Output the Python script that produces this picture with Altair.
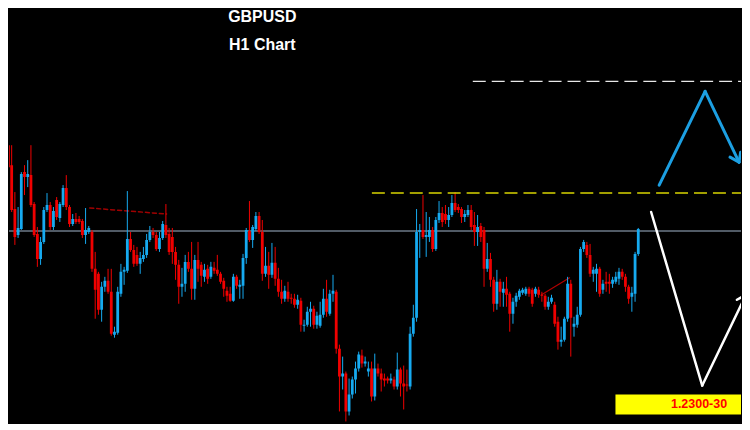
import altair as alt
import pandas as pd

# ---- GBPUSD H1 candles (prices) ----
opens = [1.2561, 1.2565, 1.2557, 1.2537, 1.2493, 1.2467, 1.2473, 1.2530, 1.2525, 1.2527,
         1.2498, 1.2468, 1.2443, 1.2460, 1.2492, 1.2497, 1.2475, 1.2502, 1.2484, 1.2497,
         1.2514, 1.2495, 1.2478, 1.2483, 1.2483, 1.2481, 1.2467, 1.2470, 1.2470, 1.2433,
         1.2428, 1.2392, 1.2415, 1.2421, 1.2410, 1.2367, 1.2369, 1.2408, 1.2430, 1.2431,
         1.2463, 1.2452, 1.2447, 1.2438, 1.2443, 1.2447, 1.2462, 1.2470, 1.2467, 1.2453,
         1.2464, 1.2477, 1.2468, 1.2465, 1.2450, 1.2437, 1.2415, 1.2418, 1.2440, 1.2433,
         1.2413, 1.2442, 1.2437, 1.2425, 1.2433, 1.2425, 1.2434, 1.2432, 1.2428, 1.2421,
         1.2411, 1.2408, 1.2401, 1.2425, 1.2415, 1.2416, 1.2444, 1.2471, 1.2462, 1.2473,
         1.2486, 1.2470, 1.2428, 1.2436, 1.2427, 1.2439, 1.2423, 1.2410, 1.2403, 1.2410,
         1.2404, 1.2403, 1.2397, 1.2401, 1.2376, 1.2377, 1.2390, 1.2393, 1.2377, 1.2376,
         1.2387, 1.2403, 1.2388, 1.2408, 1.2410, 1.2353, 1.2325, 1.2328, 1.2290, 1.2307,
         1.2322, 1.2333, 1.2346, 1.2338, 1.2330, 1.2333, 1.2305, 1.2333, 1.2328, 1.2323,
         1.2323, 1.2321, 1.2322, 1.2315, 1.2332, 1.2318, 1.2317, 1.2315, 1.2368, 1.2384,
         1.2470, 1.2472, 1.2465, 1.2465, 1.2472, 1.2453, 1.2482, 1.2489, 1.2488, 1.2482,
         1.2487, 1.2499, 1.2495, 1.2493, 1.2485, 1.2487, 1.2492, 1.2477, 1.2470, 1.2476,
         1.2472, 1.2433, 1.2443, 1.2422, 1.2398, 1.2420, 1.2409, 1.2413, 1.2408, 1.2388,
         1.2400, 1.2405, 1.2409, 1.2408, 1.2413, 1.2412, 1.2408, 1.2412, 1.2407, 1.2406,
         1.2395, 1.2400, 1.2397, 1.2380, 1.2360, 1.2362, 1.2383, 1.2418, 1.2375, 1.2377,
         1.2387, 1.2453, 1.2457, 1.2447, 1.2428, 1.2428, 1.2433, 1.2412, 1.2420, 1.2420,
         1.2418, 1.2420, 1.2423, 1.2430, 1.2425, 1.2415, 1.2405, 1.2408, 1.2448]

highs = [1.2570, 1.2573, 1.2560, 1.2557, 1.2510, 1.2495, 1.2530, 1.2537, 1.2542, 1.2557,
         1.2500, 1.2475, 1.2465, 1.2495, 1.2509, 1.2500, 1.2495, 1.2505, 1.2500, 1.2517,
         1.2527, 1.2497, 1.2488, 1.2489, 1.2486, 1.2483, 1.2494, 1.2476, 1.2472, 1.2450,
         1.2430, 1.2420, 1.2425, 1.2433, 1.2433, 1.2375, 1.2415, 1.2438, 1.2435, 1.2511,
         1.2470, 1.2457, 1.2455, 1.2450, 1.2455, 1.2468, 1.2476, 1.2474, 1.2470, 1.2470,
         1.2481, 1.2498, 1.2474, 1.2474, 1.2455, 1.2442, 1.2434, 1.2447, 1.2450, 1.2460,
         1.2447, 1.2460, 1.2440, 1.2438, 1.2437, 1.2440, 1.2440, 1.2447, 1.2430, 1.2424,
         1.2415, 1.2415, 1.2428, 1.2427, 1.2422, 1.2448, 1.2474, 1.2501, 1.2477, 1.2490,
         1.2490, 1.2482, 1.2455, 1.2450, 1.2459, 1.2455, 1.2434, 1.2422, 1.2416, 1.2420,
         1.2408, 1.2408, 1.2407, 1.2404, 1.2382, 1.2395, 1.2400, 1.2396, 1.2390, 1.2400,
         1.2413, 1.2422, 1.2412, 1.2427, 1.2412, 1.2357, 1.2345, 1.2330, 1.2323, 1.2325,
         1.2340, 1.2350, 1.2352, 1.2345, 1.2340, 1.2340, 1.2348, 1.2338, 1.2333, 1.2328,
         1.2325, 1.2328, 1.2325, 1.2349, 1.2334, 1.2336, 1.2332, 1.2375, 1.2397, 1.2493,
         1.2478, 1.2507, 1.2490, 1.2485, 1.2475, 1.2485, 1.2501, 1.2495, 1.2497, 1.2495,
         1.2507, 1.2510, 1.2498, 1.2495, 1.2492, 1.2497, 1.2497, 1.2490, 1.2487, 1.2479,
         1.2475, 1.2459, 1.2449, 1.2425, 1.2432, 1.2423, 1.2420, 1.2425, 1.2410, 1.2404,
         1.2409, 1.2413, 1.2414, 1.2415, 1.2415, 1.2414, 1.2415, 1.2415, 1.2410, 1.2408,
         1.2405, 1.2407, 1.2400, 1.2385, 1.2375, 1.2385, 1.2425, 1.2422, 1.2385, 1.2395,
         1.2455, 1.2462, 1.2460, 1.2458, 1.2435, 1.2438, 1.2435, 1.2422, 1.2430, 1.2428,
         1.2425, 1.2430, 1.2434, 1.2433, 1.2428, 1.2417, 1.2415, 1.2450, 1.2474]

lows = [1.2554, 1.2550, 1.2532, 1.2490, 1.2457, 1.2464, 1.2472, 1.2507, 1.2515, 1.2495,
        1.2465, 1.2435, 1.2437, 1.2458, 1.2490, 1.2472, 1.2472, 1.2482, 1.2480, 1.2495,
        1.2492, 1.2475, 1.2476, 1.2478, 1.2478, 1.2464, 1.2458, 1.2468, 1.2430, 1.2383,
        1.2387, 1.2380, 1.2410, 1.2408, 1.2366, 1.2364, 1.2367, 1.2405, 1.2417, 1.2429,
        1.2450, 1.2435, 1.2436, 1.2428, 1.2440, 1.2444, 1.2460, 1.2464, 1.2451, 1.2450,
        1.2462, 1.2464, 1.2447, 1.2438, 1.2422, 1.2398, 1.2405, 1.2410, 1.2430, 1.2402,
        1.2402, 1.2420, 1.2415, 1.2420, 1.2418, 1.2423, 1.2428, 1.2426, 1.2418, 1.2405,
        1.2400, 1.2400, 1.2400, 1.2413, 1.2403, 1.2403, 1.2438, 1.2460, 1.2454, 1.2471,
        1.2468, 1.2421, 1.2425, 1.2413, 1.2424, 1.2416, 1.2405, 1.2398, 1.2400, 1.2400,
        1.2398, 1.2394, 1.2393, 1.2370, 1.2370, 1.2375, 1.2375, 1.2373, 1.2373, 1.2374,
        1.2384, 1.2385, 1.2386, 1.2400, 1.2348, 1.2290, 1.2312, 1.2280, 1.2286, 1.2303,
        1.2308, 1.2330, 1.2334, 1.2335, 1.2325, 1.2300, 1.2301, 1.2325, 1.2310, 1.2315,
        1.2318, 1.2318, 1.2312, 1.2312, 1.2305, 1.2292, 1.2310, 1.2312, 1.2365, 1.2380,
        1.2444, 1.2463, 1.2445, 1.2460, 1.2450, 1.2451, 1.2479, 1.2475, 1.2478, 1.2475,
        1.2485, 1.2490, 1.2489, 1.2479, 1.2480, 1.2485, 1.2472, 1.2456, 1.2456, 1.2460,
        1.2415, 1.2430, 1.2415, 1.2390, 1.2392, 1.2395, 1.2395, 1.2395, 1.2370, 1.2378,
        1.2395, 1.2402, 1.2407, 1.2406, 1.2405, 1.2395, 1.2405, 1.2404, 1.2400, 1.2392,
        1.2392, 1.2398, 1.2375, 1.2352, 1.2355, 1.2360, 1.2380, 1.2345, 1.2365, 1.2374,
        1.2385, 1.2450, 1.2444, 1.2425, 1.2420, 1.2410, 1.2405, 1.2408, 1.2410, 1.2408,
        1.2414, 1.2418, 1.2417, 1.2422, 1.2410, 1.2398, 1.2390, 1.2400, 1.2446]

closes = [1.2567, 1.2553, 1.2535, 1.2492, 1.2465, 1.2474, 1.2528, 1.2525, 1.2528, 1.2497,
          1.2467, 1.2443, 1.2460, 1.2492, 1.2497, 1.2475, 1.2491, 1.2485, 1.2498, 1.2514,
          1.2495, 1.2478, 1.2483, 1.2480, 1.2480, 1.2467, 1.2472, 1.2474, 1.2433, 1.2412,
          1.2392, 1.2415, 1.2421, 1.2410, 1.2368, 1.2370, 1.2410, 1.2430, 1.2432, 1.2463,
          1.2452, 1.2438, 1.2438, 1.2444, 1.2447, 1.2462, 1.2470, 1.2467, 1.2453, 1.2464,
          1.2478, 1.2467, 1.2450, 1.2450, 1.2437, 1.2415, 1.2418, 1.2440, 1.2433, 1.2413,
          1.2442, 1.2433, 1.2426, 1.2432, 1.2423, 1.2435, 1.2431, 1.2428, 1.2420, 1.2413,
          1.2406, 1.2401, 1.2425, 1.2416, 1.2417, 1.2444, 1.2472, 1.2462, 1.2475, 1.2486,
          1.2470, 1.2428, 1.2436, 1.2427, 1.2439, 1.2423, 1.2410, 1.2403, 1.2411, 1.2403,
          1.2403, 1.2397, 1.2402, 1.2377, 1.2377, 1.2390, 1.2393, 1.2377, 1.2386, 1.2387,
          1.2403, 1.2390, 1.2408, 1.2411, 1.2353, 1.2325, 1.2328, 1.2290, 1.2307, 1.2322,
          1.2333, 1.2347, 1.2338, 1.2340, 1.2333, 1.2305, 1.2333, 1.2328, 1.2322, 1.2321,
          1.2321, 1.2323, 1.2315, 1.2332, 1.2318, 1.2315, 1.2316, 1.2368, 1.2384, 1.2470,
          1.2472, 1.2465, 1.2467, 1.2472, 1.2453, 1.2482, 1.2489, 1.2480, 1.2482, 1.2487,
          1.2499, 1.2492, 1.2492, 1.2485, 1.2488, 1.2492, 1.2475, 1.2470, 1.2475, 1.2465,
          1.2433, 1.2443, 1.2422, 1.2398, 1.2420, 1.2410, 1.2413, 1.2407, 1.2388, 1.2400,
          1.2406, 1.2411, 1.2412, 1.2413, 1.2408, 1.2398, 1.2413, 1.2407, 1.2406, 1.2395,
          1.2400, 1.2404, 1.2378, 1.2360, 1.2362, 1.2383, 1.2418, 1.2384, 1.2378, 1.2387,
          1.2453, 1.2460, 1.2447, 1.2428, 1.2432, 1.2433, 1.2408, 1.2418, 1.2418, 1.2418,
          1.2422, 1.2425, 1.2430, 1.2425, 1.2415, 1.2403, 1.2409, 1.2448, 1.2473]

# ---- annotation levels / drawings (bar index, price) ----
grey_level = 1.2471
target_levels = [1.2509, 1.2621]
target_starts = [115.1, 146.5]
target_colors = ["#d8d400", "#e8e8e8"]

blue_arrow = [  # x, price, x2, price2
    (204.5, 1.2517, 218.8, 1.2611),
    (218.8, 1.2611, 229.35, 1.2540),
    (229.35, 1.2540, 229.85, 1.2550),
    (229.35, 1.2540, 226.55, 1.2545),
]
white_arrow = [
    (202.0, 1.2490, 217.9, 1.2316),
    (217.9, 1.2316, 231.5, 1.2407),
    (231.5, 1.2407, 228.7, 1.2402),
    (231.5, 1.2407, 232.1, 1.2397),
]
red_dashed = [(27.3, 1.2494, 51.2, 1.2488)]
red_thin = [(167.9, 1.2407, 176.6, 1.2424)]

box_x = [190.9, 240.0]
box_y = [1.2307, 1.2287]
box_label = "1.2300-30"
box_label_pos = (216.9, 1.2297)

title_lines = ["GBPUSD", "H1 Chart"]

# ---- build ----
W, H = 734, 414
PITCH = 3.2222
xs = alt.Scale(domain=[7 / PITCH, (W + 7) / PITCH], nice=False, zero=False, padding=0)
ys = alt.Scale(domain=[1.2278, 1.2692], nice=False, zero=False, padding=0)

df = pd.DataFrame({
    "i": list(range(len(closes))),
    "open": opens, "high": highs, "low": lows, "close": closes,
})
df["dir"] = ["up" if c >= o else "down" for o, c in zip(opens, closes)]

col = alt.Color("dir:N", scale=alt.Scale(domain=["up", "down"], range=["#16aaf0", "#f00000"]), legend=None)
X = alt.X("i:Q", scale=xs, axis=None)

base = alt.Chart(df)
wicks = base.mark_rule(strokeWidth=1, clip=True).encode(
    x=X, y=alt.Y("low:Q", scale=ys, axis=None), y2="high:Q", color=col)
bodies = base.mark_bar(size=2.8, clip=True).encode(
    x=X, y=alt.Y("open:Q", scale=ys, axis=None), y2="close:Q", color=col)

grey = alt.Chart(pd.DataFrame({"p": [grey_level]})).mark_rule(
    color="#6c7a88", strokeWidth=1.5).encode(
    y=alt.Y("p:Q", scale=ys, axis=None), x=alt.value(0), x2=alt.value(W))

tl = pd.DataFrame({"p": target_levels, "s": target_starts, "e": [240, 240], "c": target_colors})
targets = alt.Chart(tl).mark_rule(strokeWidth=1.4, strokeDash=[13, 6], clip=True).encode(
    x=alt.X("s:Q", scale=xs, axis=None), x2="e:Q",
    y=alt.Y("p:Q", scale=ys, axis=None), color=alt.Color("c:N", scale=None))


def seg_chart(segs, **kw):
    d = pd.DataFrame(segs, columns=["x", "y", "x2", "y2"])
    return alt.Chart(d).mark_rule(clip=True, strokeCap="round", **kw).encode(
        x=alt.X("x:Q", scale=xs, axis=None), x2="x2:Q",
        y=alt.Y("y:Q", scale=ys, axis=None), y2="y2:Q")


blue = seg_chart(blue_arrow, color="#1c9fe2", strokeWidth=3)
white = seg_chart(white_arrow, color="#ffffff", strokeWidth=2.5)
rdash = seg_chart(red_dashed, color="#a00000", strokeWidth=1.5, strokeDash=[4, 3])
rthin = seg_chart(red_thin, color="#b00000", strokeWidth=1.2)

box = alt.Chart(pd.DataFrame({"x": [box_x[0]], "x2": [box_x[1]], "y": [box_y[0]], "y2": [box_y[1]]})).mark_rect(
    color="#ffff00", clip=True).encode(
    x=alt.X("x:Q", scale=xs, axis=None), x2="x2:Q",
    y=alt.Y("y:Q", scale=ys, axis=None), y2="y2:Q")
box_text = alt.Chart(pd.DataFrame({"x": [box_label_pos[0]], "y": [box_label_pos[1]], "t": [box_label]})).mark_text(
    color="#ff0000", font="Liberation Sans", fontWeight="bold", fontSize=12.5, align="center", baseline="middle").encode(
    x=alt.X("x:Q", scale=xs, axis=None), y=alt.Y("y:Q", scale=ys, axis=None), text="t:N")

t1 = alt.Chart(pd.DataFrame({"t": [title_lines[0]]})).mark_text(
    color="white", font="Liberation Sans", fontWeight="bold", fontSize=16, align="center", baseline="alphabetic").encode(
    text="t:N", x=alt.value(254), y=alt.value(11.5))
t2 = alt.Chart(pd.DataFrame({"t": [title_lines[1]]})).mark_text(
    color="white", font="Liberation Sans", fontWeight="bold", fontSize=16, align="center", baseline="alphabetic").encode(
    text="t:N", x=alt.value(254), y=alt.value(40))

chart = alt.layer(grey, rdash, rthin, wicks, bodies, targets, blue, white, box, box_text, t1, t2).properties(
    width=W, height=H, background="black", padding=0
).configure_view(strokeWidth=0)

chart.save("out.html", embed_options={"renderer": "svg", "actions": False})
